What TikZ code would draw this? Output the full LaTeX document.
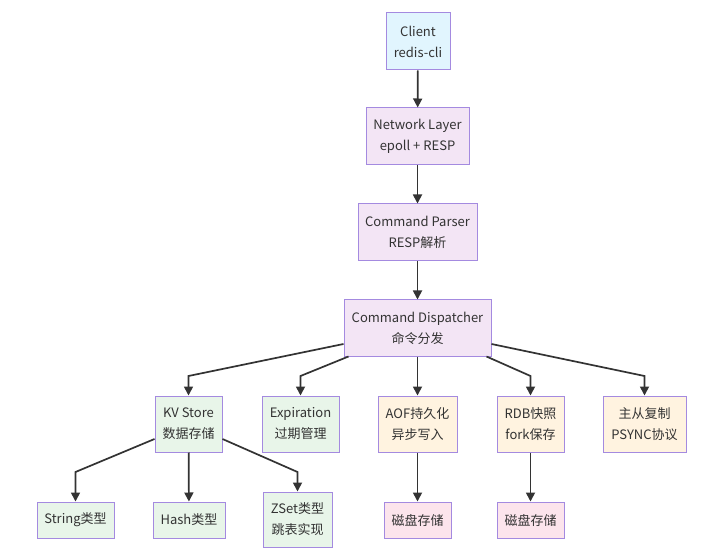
\documentclass[tikz,border=0pt]{standalone}
\usepackage{fontspec}
\setmainfont{Noto Sans CJK SC}
\usetikzlibrary{arrows.meta}
\definecolor{bd}{HTML}{A48AE0}
\definecolor{cblue}{HTML}{E1F5FE}
\definecolor{cpurp}{HTML}{F3E5F5}
\definecolor{cgreen}{HTML}{E8F5E9}
\definecolor{corange}{HTML}{FFF3E0}
\definecolor{cpink}{HTML}{FCE4EC}
\definecolor{ln}{HTML}{333333}
\tikzset{
  box/.style={draw=bd, line width=1pt, inner sep=0pt, align=center, text=black!80,
    font=\fontsize{13}{21}\selectfont},
  arr/.style={draw=ln, line width=1.7pt, -{Triangle[length=9pt,width=9pt]}},
}
\begin{document}
\begin{tikzpicture}[x=1pt,y=-1pt]
\useasboundingbox[fill=white] (0,0) rectangle (720,553);
\node[box, fill=cblue, minimum width=64pt, minimum height=57pt] (client) at (418,41.5) {Client\\redis-cli};
\node[box, fill=cpurp, minimum width=103pt, minimum height=57pt] (net) at (417.5,136.5) {Network Layer\\epoll + RESP};
\node[box, fill=cpurp, minimum width=119pt, minimum height=57pt] (parser) at (417.5,232.5) {Command Parser\\RESP解析};
\node[box, fill=cpurp, minimum width=147pt, minimum height=56pt] (disp) at (417.5,328) {Command Dispatcher\\命令分发};
\node[box, fill=cgreen, minimum width=67pt, minimum height=56pt] (kv) at (188.5,424) {KV Store\\数据存储};
\node[box, fill=cgreen, minimum width=77pt, minimum height=56pt] (exp) at (300.5,424) {Expiration\\过期管理};
\node[box, fill=corange, minimum width=79pt, minimum height=56pt] (aof) at (417.5,424) {AOF持久化\\异步写入};
\node[box, fill=corange, minimum width=67pt, minimum height=56pt] (rdb) at (530.5,424) {RDB快照\\fork保存};
\node[box, fill=corange, minimum width=83pt, minimum height=56pt] (repl) at (644.5,424) {主从复制\\PSYNC协议};
\node[box, fill=cgreen, minimum width=77pt, minimum height=36pt] (str) at (75.5,520) {String类型};
\node[box, fill=cgreen, minimum width=72pt, minimum height=36pt] (hash) at (189,520) {Hash类型};
\node[box, fill=cgreen, minimum width=69pt, minimum height=55pt] (zset) at (297.5,519.5) {ZSet类型\\跳表实现};
\node[box, fill=cpink, minimum width=67pt, minimum height=36pt] (disk1) at (417.5,520) {磁盘存储};
\node[box, fill=cpink, minimum width=67pt, minimum height=36pt] (disk2) at (530.5,520) {磁盘存储};

\draw[arr] (client) -- (net);
\draw[arr] (net) -- (parser);
\draw[arr] (parser) -- (disp);
\draw[arr] ([yshift=-16pt]disp.west) -- (kv.north |- 0,376) -- (kv.north);
\draw[arr] ([xshift=5pt]disp.south west) -- (exp.north |- 0,376) -- (exp.north);
\draw[arr] (disp) -- (aof);
\draw[arr] ([xshift=-5pt]disp.south east) -- (rdb.north |- 0,376) -- (rdb.north);
\draw[arr] ([yshift=-16pt]disp.east) -- (repl.north |- 0,376) -- (repl.north);
\draw[arr] ([yshift=-15pt]kv.west) -- (str.north |- 0,472) -- (str.north);
\draw[arr] (kv) -- (hash);
\draw[arr] ([yshift=-15pt]kv.east) -- (zset.north |- 0,472) -- (zset.north);
\draw[arr] (aof) -- (disk1);
\draw[arr] (rdb) -- (disk2);
\end{tikzpicture}
\end{document}
